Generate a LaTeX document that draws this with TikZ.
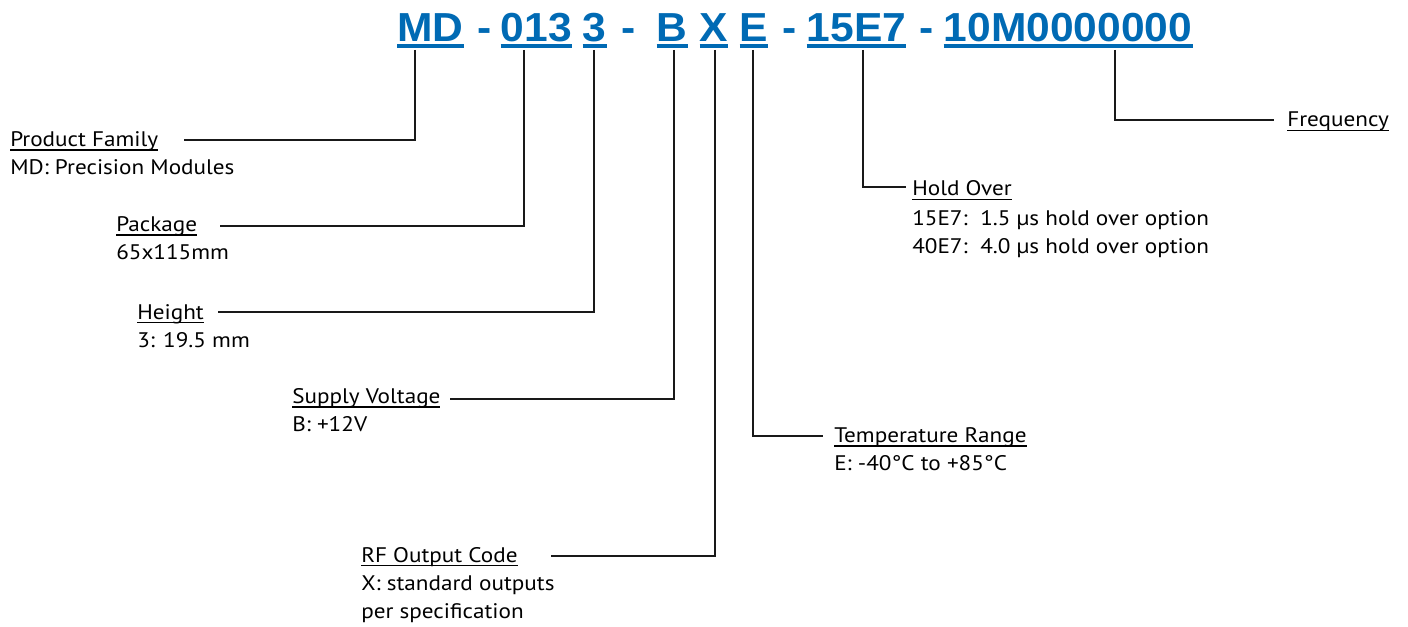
\documentclass[tikz,border=0pt]{standalone}
\usepackage{fontspec}
\setmainfont[FakeStretch=1.1]{PT Sans}
\newfontfamily\pnfont[FakeStretch=1.05]{Liberation Sans}
\usetikzlibrary{calc}
\definecolor{pnblue}{RGB}{0,106,180}
\newcommand\ulx[1]{\setbox0\hbox{#1}\rlap{\rule[-3pt]{\wd0}{0.95pt}}\box0}
\begin{document}
\begin{tikzpicture}[x=0.75pt,y=-0.75pt,
  pn/.style={anchor=base west, inner sep=0pt, text=pnblue, font=\pnfont\bfseries\fontsize{30.4}{36}\selectfont},
  lbl/.style={anchor=base west, inner sep=0pt, font=\fontsize{15.8}{21.2}\selectfont},
  conn/.style={line width=1.5pt, black!90},
  pnul/.style={line width=3pt, pnblue}]
\useasboundingbox (0,0) rectangle (1408,627);
% part number
\node[pn] (md)   at (397,41.7) {MD};
\node[pn] (h1)   at (477,41.7) {-};
\node[pn] (p013) at (500.5,41.7) {013};
\node[pn] (p3)   at (582.5,41.7) {3};
\node[pn] (h2)   at (621.5,41.7) {-};
\node[pn] (pB)   at (656.5,41.7) {B};
\node[pn] (pX)   at (699.5,41.7) {X};
\node[pn] (pE)   at (739.5,41.7) {E};
\node[pn] (h3)   at (782.5,41.7) {-};
\node[pn] (p15)  at (806.5,41.7) {15E7};
\node[pn] (h4)   at (919.5,41.7) {-};
\node[pn] (p10)  at (943.5,41.7) {10M0000000};
\foreach \n in {md,p013,p3,pB,pX,pE,p15,p10}
  \draw[pnul] ([yshift=-3.5pt]\n.base west) -- ([yshift=-3.5pt]\n.base east);
% labels
\node[lbl] (pft) at (10,146.7) {\ulx{Product Family}};
\node[lbl] (pfd) at (10,174.5) {MD: Precision Modules};
\node[lbl] (pkt) at (116,231.7) {\ulx{Package}};
\node[lbl] (pkd) at (116,259.5) {65x115mm};
\node[lbl] (htt) at (137,319) {\ulx{Height}};
\node[lbl] (htd) at (137,347.5) {3: 19.5 mm};
\node[lbl] (svt) at (292,403.5) {\ulx{Supply Voltage}};
\node[lbl] (svd) at (292,431) {B: +12V};
\node[lbl] (trt) at (834,442.7) {\ulx{Temperature Range}};
\node[lbl] (trd) at (834,470.5) {E: -40°C to +85°C};
\node[lbl] (rft) at (361,562.3) {\ulx{RF Output Code}};
\node[lbl] (rfd) at (361,590.3) {\begin{tabular}[t]{@{}l@{}}X: standard outputs\\ per specification\end{tabular}};
\node[lbl] (hot) at (912,196) {\ulx{Hold Over}};
\node[lbl] (hod) at (912,225) {\begin{tabular}[t]{@{}l@{}}\makebox[51pt][l]{15E7:}1.5 µs hold over option\\ \makebox[51pt][l]{40E7:}4.0 µs hold over option\end{tabular}};
\node[lbl] (frt) at (1287,127) {\ulx{Frequency}};
% connector ends
\coordinate (tMD) at (415,50);   \coordinate (ePF) at (184,140);
\coordinate (t013) at (524,50);  \coordinate (ePK) at (220,225.7);
\coordinate (t3) at (593.5,50);  \coordinate (eHT) at (218,312);
\coordinate (tB) at (673.5,50);  \coordinate (eSV) at (450,398.7);
\coordinate (tX) at (715,50);    \coordinate (eRF) at (551,556);
\coordinate (tE) at (752.5,50);  \coordinate (eTR) at (823,435.5);
\coordinate (t15) at (863,50);   \coordinate (eHO) at (906,187);
\coordinate (t10) at (1114.5,50);\coordinate (eFR) at (1274,120.5);
\draw[conn] (tMD) |- (ePF);
\draw[conn] (t013) |- (ePK);
\draw[conn] (t3) |- (eHT);
\draw[conn] (tB) |- (eSV);
\draw[conn] (tX) |- (eRF);
\draw[conn] (tE) |- (eTR);
\draw[conn] (t15) |- (eHO);
\draw[conn] (t10) |- (eFR);
\end{tikzpicture}
\end{document}
